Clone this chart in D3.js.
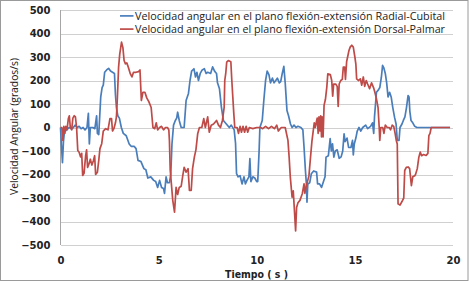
<!DOCTYPE html>
<html>
<head>
<meta charset="utf-8">
<script src="https://cdn.jsdelivr.net/npm/d3@7"></script>
<style>
  body { margin: 0; background: #fff; }
</style>
</head>
<body>
<div id="vis"></div>
<script>
// Velocidad angular, serie Radial-Cubital (azul)
const tiempoRC = [0.0, 0.05, 0.1, 0.15, 0.2, 0.3, 0.45, 0.6, 0.75, 0.85, 0.95, 1.05, 1.15, 1.25, 1.35, 1.42, 1.47, 1.52, 1.65, 1.75, 1.84, 1.88, 1.95, 2.0, 2.05, 2.12, 2.18, 2.25, 2.35, 2.45, 2.55, 2.65, 2.75, 2.8, 2.85, 2.92, 3.0, 3.1, 3.2, 3.35, 3.5, 3.6, 3.75, 3.85, 3.95, 4.1, 4.25, 4.35, 4.45, 4.6, 4.75, 4.85, 4.95, 5.05, 5.15, 5.25, 5.3, 5.38, 5.45, 5.55, 5.62, 5.68, 5.76, 5.85, 5.92, 5.97, 6.05, 6.15, 6.3, 6.4, 6.52, 6.6, 6.68, 6.8, 6.88, 6.95, 7.03, 7.12, 7.22, 7.33, 7.42, 7.5, 7.65, 7.75, 7.85, 7.95, 8.0, 8.1, 8.2, 8.3, 8.45, 8.6, 8.7, 8.85, 8.92, 8.97, 9.05, 9.15, 9.25, 9.35, 9.42, 9.5, 9.6, 9.65, 9.7, 9.8, 9.9, 10.0, 10.05, 10.12, 10.16, 10.28, 10.36, 10.45, 10.53, 10.62, 10.7, 10.8, 10.88, 10.97, 11.05, 11.15, 11.22, 11.3, 11.38, 11.45, 11.54, 11.62, 11.72, 11.8, 11.9, 12.0, 12.1, 12.25, 12.35, 12.41, 12.48, 12.53, 12.56, 12.6, 12.7, 12.78, 12.9, 13.05, 13.1, 13.2, 13.3, 13.38, 13.48, 13.53, 13.65, 13.74, 13.8, 13.86, 13.93, 14.0, 14.1, 14.2, 14.3, 14.38, 14.45, 14.5, 14.6, 14.68, 14.8, 14.88, 14.92, 14.97, 15.05, 15.12, 15.21, 15.3, 15.4, 15.55, 15.65, 15.8, 15.9, 15.96, 16.0, 16.1, 16.2, 16.27, 16.35, 16.41, 16.47, 16.55, 16.62, 16.69, 16.77, 16.85, 16.93, 17.02, 17.1, 17.16, 17.25, 17.3, 17.4, 17.47, 17.55, 17.63, 17.71, 17.76, 17.8, 17.86, 17.95, 18.05, 18.16, 19.85];
const velRC = [0, -80, -150, -60, -20, -10, 0, -5, 10, 0, 5, -5, 0, -10, 0, 60, -70, 0, 0, -5, 50, -25, -30, 50, 130, 170, 180, 235, 245, 252, 240, 235, 230, 140, 85, 50, 40, 0, -25, -35, -70, -80, -80, -90, -140, -145, -175, -180, -215, -210, -225, -230, -255, -225, -255, -260, -280, -210, -235, -235, -200, -70, 10, 30, 40, 65, 30, 0, 0, 115, 145, 200, 240, 250, 215, 235, 200, 230, 245, 250, 230, 235, 230, 258, 240, 230, 190, 165, 86, 30, 15, 0, 10, -10, -68, -196, -210, -205, -240, -210, -240, -225, -210, -132, -230, -210, -215, -230, -230, -100, 0, 30, 115, 200, 240, 225, 190, 210, 190, 200, 210, 190, 195, 230, 260, 190, 72, 50, 15, 0, 10, 0, 5, 0, -10, -84, -183, -240, -318, -240, -235, -197, -185, -190, -240, -240, -255, -235, -210, -126, -120, -47, -100, -70, -126, -100, -95, -131, -125, -100, -27, -60, -45, -85, -85, -55, -117, -70, -45, -15, 0, -15, 0, 10, -5, 5, 20, -25, 45, 150, 160, 170, 214, 264, 255, 230, 190, 130, 150, 130, 86, 44, 15, -55, -55, 0, 15, 30, 45, 85, 136, 130, 70, 30, 20, 5, 0, 0];

// Velocidad angular, serie Dorsal-Palmar (rojo)
const tiempoDP = [0.0, 0.07, 0.12, 0.17, 0.22, 0.27, 0.33, 0.4, 0.45, 0.5, 0.57, 0.63, 0.7, 0.76, 0.82, 0.88, 0.95, 1.02, 1.08, 1.13, 1.2, 1.28, 1.33, 1.38, 1.45, 1.52, 1.6, 1.68, 1.74, 1.79, 1.88, 1.95, 2.01, 2.1, 2.18, 2.3, 2.42, 2.52, 2.6, 2.65, 2.72, 2.8, 2.85, 2.9, 2.96, 3.02, 3.11, 3.18, 3.24, 3.31, 3.38, 3.46, 3.56, 3.64, 3.72, 3.85, 3.98, 4.05, 4.12, 4.2, 4.3, 4.4, 4.5, 4.62, 4.71, 4.8, 4.88, 4.95, 5.05, 5.15, 5.25, 5.35, 5.45, 5.52, 5.55, 5.59, 5.65, 5.72, 5.81, 5.89, 5.97, 6.05, 6.15, 6.23, 6.3, 6.4, 6.5, 6.57, 6.66, 6.73, 6.82, 6.9, 6.99, 7.08, 7.2, 7.3, 7.38, 7.5, 7.58, 7.68, 7.8, 7.95, 8.05, 8.15, 8.25, 8.34, 8.37, 8.42, 8.47, 8.55, 8.68, 8.73, 8.78, 8.83, 8.88, 9.0, 9.07, 9.15, 9.22, 9.3, 9.38, 9.46, 9.54, 9.62, 9.8, 10.0, 10.2, 10.3, 10.45, 10.6, 10.75, 10.9, 11.02, 11.1, 11.25, 11.45, 11.59, 11.65, 11.71, 11.8, 11.86, 11.91, 11.98, 12.03, 12.1, 12.2, 12.32, 12.41, 12.45, 12.52, 12.6, 12.66, 12.74, 12.81, 12.87, 12.93, 12.98, 13.04, 13.08, 13.13, 13.17, 13.22, 13.26, 13.3, 13.33, 13.38, 13.43, 13.5, 13.57, 13.62, 13.75, 13.82, 13.87, 13.92, 14.02, 14.1, 14.15, 14.2, 14.28, 14.36, 14.41, 14.48, 14.52, 14.58, 14.63, 14.7, 14.76, 14.84, 14.92, 15.0, 15.05, 15.09, 15.18, 15.28, 15.35, 15.43, 15.5, 15.58, 15.65, 15.75, 15.85, 15.95, 16.02, 16.1, 16.18, 16.24, 16.27, 16.32, 16.42, 16.48, 16.55, 16.65, 16.75, 16.82, 16.9, 16.98, 17.05, 17.11, 17.16, 17.2, 17.3, 17.4, 17.49, 17.54, 17.62, 17.72, 17.79, 17.88, 17.95, 18.05, 18.09, 18.18, 18.26, 18.33, 18.4, 18.5, 18.63, 18.72, 18.77, 18.83, 18.89, 19.85];
const velDP = [0, 0, -55, 5, -25, 5, -10, 38, 50, 0, -10, 40, 50, 45, 0, -98, -105, -125, -110, -204, -195, -120, -95, -170, -155, -135, -160, -140, -120, -200, -190, -140, -90, -69, -15, -5, -10, 38, 38, -15, -5, 20, 45, 130, 257, 313, 363, 340, 285, 271, 275, 255, 228, 215, 235, 235, 238, 245, 115, 150, 150, 125, 110, 85, 0, -5, 20, -10, 0, 5, -10, 0, 0, -10, -55, -180, -240, -310, -360, -255, -285, -255, -250, -205, -170, -190, -175, -268, -268, -175, -126, -95, -27, 0, 0, 38, 0, 45, -20, 10, 15, 30, 10, 0, 30, 86, 200, 230, 278, 285, 280, 200, 130, 60, 0, 0, -25, 5, -20, 5, -20, 5, -20, 0, -5, 0, 0, -5, 5, -5, 5, -5, 10, -15, 0, 0, -55, -126, -211, -296, -270, -339, -440, -340, -320, -310, -282, -240, -280, -250, -225, -205, -126, -60, -20, 20, 0, 25, 40, -25, 45, -15, 50, -40, 45, -40, 94, 120, 172, 228, 225, 200, 133, 185, 185, 175, 90, 185, 200, 205, 257, 257, 205, 280, 300, 328, 342, 350, 342, 300, 270, 207, 200, 207, 180, 215, 175, 200, 185, 165, 190, 170, 150, 122, 86, 0, -55, 0, 0, -25, 10, 0, 0, -10, 10, 5, -25, -55, -70, -325, -330, -315, -300, -183, -170, -168, -175, -247, -210, -205, -200, -175, -126, -105, -120, -115, -119, -110, -35, -25, 0, 0];

const ticksX = [0, 5, 10, 15, 20];
const ticksY = [-500, -400, -300, -200, -100, 0, 100, 200, 300, 400, 500];
const series = [
  { nombre: "Velocidad angular en el plano flexión-extensión Radial-Cubital", color: "#4a7ebb", t: tiempoRC, v: velRC },
  { nombre: "Velocidad angular en el plano flexión-extensión Dorsal-Palmar", color: "#be4b48", t: tiempoDP, v: velDP }
];

const WIDTH = 469;
const HEIGHT = 282;
const MARGINS = { TOP: 10, RIGHT: 16, BOTTOM: 37, LEFT: 60.5 };

const SVG = d3.select("#vis").append("svg")
  .attr("width", WIDTH)
  .attr("height", HEIGHT);

SVG.append("rect")
  .attr("x", 0.5).attr("y", 0.5)
  .attr("width", WIDTH - 1.5).attr("height", HEIGHT - 2)
  .attr("fill", "#fff")
  .attr("stroke", "#9a9a9a");

const escalaX = d3.scaleLinear()
  .domain([0, 20])
  .range([MARGINS.LEFT, WIDTH - MARGINS.RIGHT]);

const escalaY = d3.scaleLinear()
  .domain([-500, 500])
  .range([HEIGHT - MARGINS.BOTTOM, MARGINS.TOP]);

// eje Y con lineas de grilla
const ejeY = SVG.append("g")
  .attr("transform", `translate(${MARGINS.LEFT}, 0)`)
  .call(d3.axisLeft(escalaY)
    .tickValues(ticksY)
    .tickSize(-(escalaX.range()[1] - escalaX.range()[0]))
    .tickPadding(10)
    .tickFormat(d3.format("d")));

ejeY.select(".domain").remove();
ejeY.selectAll("line").attr("stroke", "#d0d0d0").attr("shape-rendering", "crispEdges");
ejeY.selectAll("text")
  .attr("font-family", "DejaVu Sans")
  .attr("font-weight", "bold")
  .attr("font-size", 10)
  .attr("fill", "#222");

SVG.append("line")
  .attr("x1", MARGINS.LEFT).attr("x2", MARGINS.LEFT)
  .attr("y1", escalaY(500)).attr("y2", escalaY(-500))
  .attr("stroke", "#a6a6a6")
  .attr("shape-rendering", "crispEdges");

// eje X
const ejeX = SVG.append("g")
  .attr("transform", `translate(0, ${escalaY(-500)})`)
  .call(d3.axisBottom(escalaX)
    .tickValues(ticksX)
    .tickSize(0)
    .tickPadding(11.5));

ejeX.select(".domain").remove();
ejeX.selectAll("text")
  .attr("font-family", "DejaVu Sans")
  .attr("font-weight", "bold")
  .attr("font-size", 10)
  .attr("fill", "#222");

// lineas de datos
const linea = d3.line()
  .x(d => escalaX(d[0]))
  .y(d => escalaY(d[1]));

const contenedorLineas = SVG.append("g");

series.forEach(s => {
  contenedorLineas.append("path")
    .datum(d3.zip(s.t, s.v))
    .attr("d", linea)
    .attr("fill", "none")
    .attr("stroke", s.color)
    .attr("stroke-width", 1.7)
    .attr("stroke-linejoin", "round");
});

// leyenda
const leyenda = SVG.append("g");
series.forEach((s, i) => {
  const yBase = 19.5 + i * 13.2;
  leyenda.append("line")
    .attr("x1", 120).attr("x2", 133.5)
    .attr("y1", yBase - 3.6).attr("y2", yBase - 3.6)
    .attr("stroke", s.color)
    .attr("stroke-width", 1.7);
  leyenda.append("text")
    .attr("x", 135)
    .attr("y", yBase)
    .attr("font-family", "Open Sans")
    .attr("font-size", 10)
    .attr("fill", "#222")
    .attr("textLength", 310)
    .attr("lengthAdjust", "spacingAndGlyphs")
    .text(s.nombre);
});

// titulos de ejes
SVG.append("text")
  .attr("transform", "translate(17.5, 126.5) rotate(-90)")
  .attr("text-anchor", "middle")
  .attr("font-family", "Open Sans")
  .attr("font-size", 10.5)
  .attr("fill", "#222")
  .attr("textLength", 137)
  .attr("lengthAdjust", "spacingAndGlyphs")
  .text("Velocidad Angular (grados/s)");

SVG.append("text")
  .attr("x", 256.5)
  .attr("y", 278)
  .attr("text-anchor", "middle")
  .attr("font-family", "DejaVu Sans")
  .attr("font-weight", "bold")
  .attr("font-size", 10)
  .attr("fill", "#222")
  .attr("textLength", 63)
  .attr("lengthAdjust", "spacingAndGlyphs")
  .text("Tiempo ( s )");
</script>
</body>
</html>
